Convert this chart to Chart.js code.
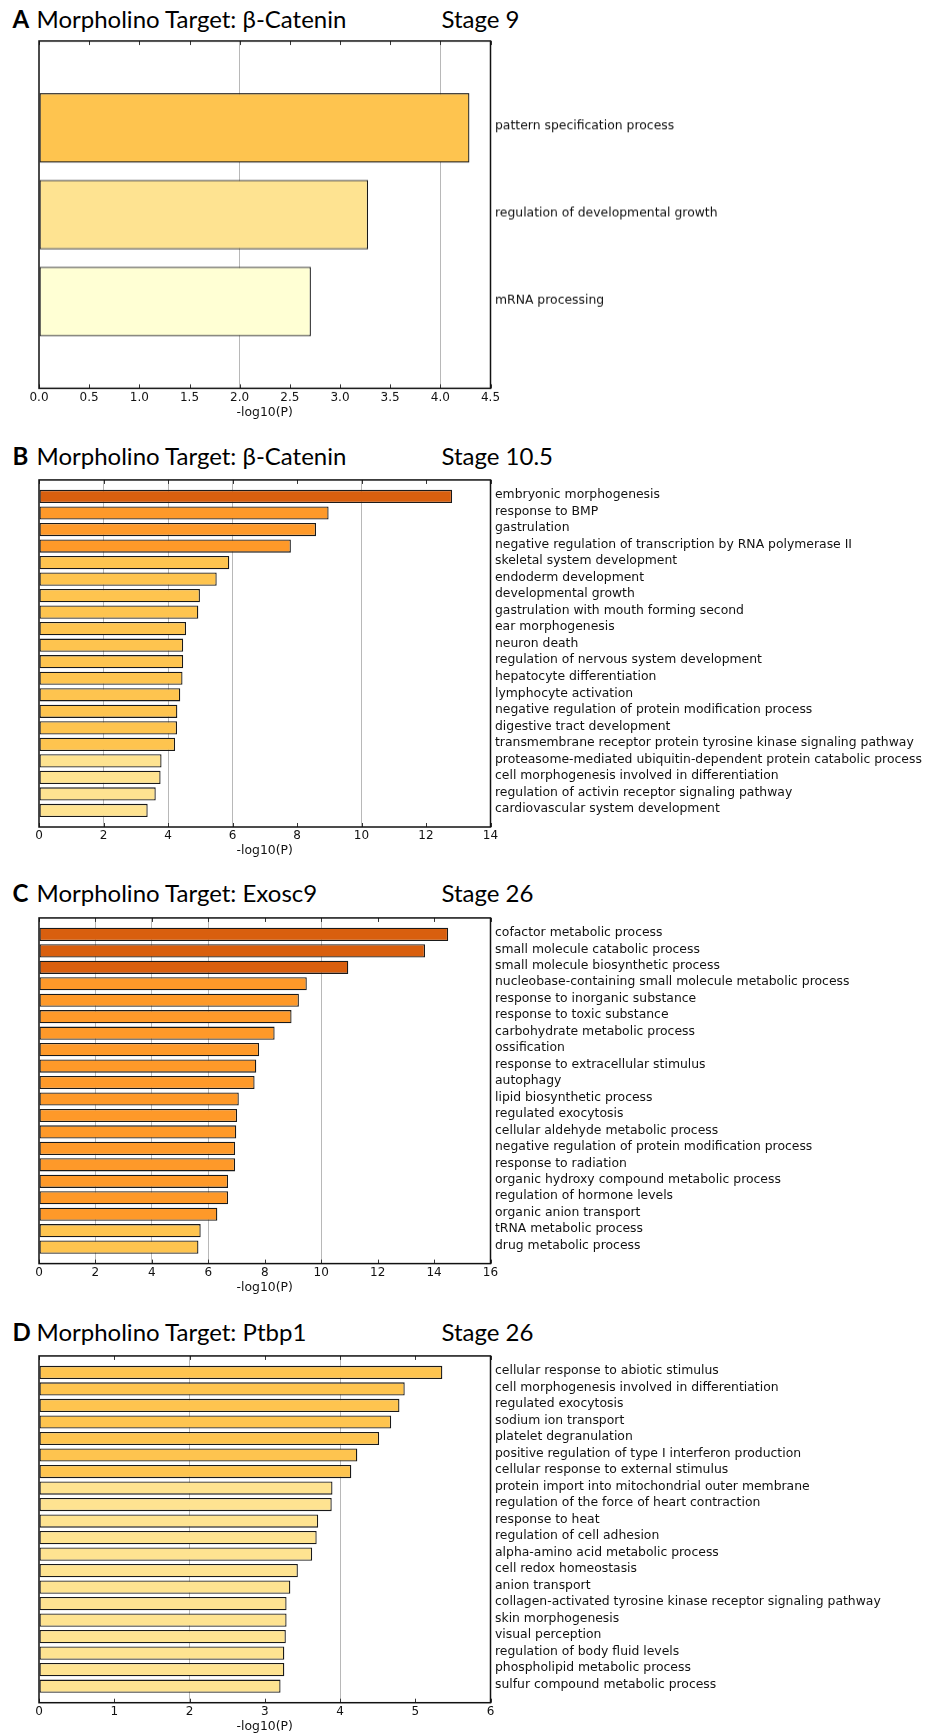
<!DOCTYPE html>
<html>
<head>
<meta charset="utf-8">
<script src="https://cdn.jsdelivr.net/npm/chart.js@4.4.0/dist/chart.umd.min.js"></script>
<style>
  body { margin: 0; background: #fff; width: 926px; height: 1733px; position: relative; overflow: hidden; }
  .panel { position: absolute; left: 0; width: 926px; }
  .head { position: absolute; left: 0; width: 926px; height: 24px; font-family: Lato, sans-serif; font-size: 24px; line-height: 24px; color: #000; white-space: nowrap; }
  .head span { position: absolute; top: 0; }
  .head .letter { font-weight: bold; }
</style>
</head>
<body>
<script>
// panel A - beta-catenin, stage 9
const termsA = ['pattern specification process', 'regulation of developmental growth', 'mRNA processing']
const valuesA = [4.29, 3.28, 2.71]
const colorsA = ['#FEC44F', '#FEE391', '#FFFFD4']

// panel B - beta-catenin, stage 10.5
const termsB = [
  'embryonic morphogenesis', 'response to BMP', 'gastrulation',
  'negative regulation of transcription by RNA polymerase II', 'skeletal system development',
  'endoderm development', 'developmental growth', 'gastrulation with mouth forming second',
  'ear morphogenesis', 'neuron death', 'regulation of nervous system development',
  'hepatocyte differentiation', 'lymphocyte activation',
  'negative regulation of protein modification process', 'digestive tract development',
  'transmembrane receptor protein tyrosine kinase signaling pathway',
  'proteasome-mediated ubiquitin-dependent protein catabolic process',
  'cell morphogenesis involved in differentiation', 'regulation of activin receptor signaling pathway',
  'cardiovascular system development'
]
const valuesB = [12.81, 8.98, 8.59, 7.81, 5.90, 5.51, 4.99, 4.94, 4.56, 4.47,
                 4.47, 4.45, 4.38, 4.29, 4.28, 4.22, 3.80, 3.77, 3.62, 3.37]
const colorsB = ['#D95F0E', '#FE9929', '#FE9929', '#FE9929',
                 '#FEC44F', '#FEC44F', '#FEC44F', '#FEC44F', '#FEC44F', '#FEC44F',
                 '#FEC44F', '#FEC44F', '#FEC44F', '#FEC44F', '#FEC44F', '#FEC44F',
                 '#FEE391', '#FEE391', '#FEE391', '#FEE391']

// panel C - exosc9, stage 26
const termsC = [
  'cofactor metabolic process', 'small molecule catabolic process', 'small molecule biosynthetic process',
  'nucleobase-containing small molecule metabolic process', 'response to inorganic substance',
  'response to toxic substance', 'carbohydrate metabolic process', 'ossification',
  'response to extracellular stimulus', 'autophagy', 'lipid biosynthetic process',
  'regulated exocytosis', 'cellular aldehyde metabolic process',
  'negative regulation of protein modification process', 'response to radiation',
  'organic hydroxy compound metabolic process', 'regulation of hormone levels',
  'organic anion transport', 'tRNA metabolic process', 'drug metabolic process'
]
const valuesC = [14.50, 13.68, 10.96, 9.49, 9.21, 8.95, 8.35, 7.80, 7.70, 7.64,
                 7.08, 7.02, 6.99, 6.95, 6.95, 6.70, 6.70, 6.32, 5.73, 5.65]
const colorsC = ['#D95F0E', '#D95F0E', '#D95F0E',
                 '#FE9929', '#FE9929', '#FE9929', '#FE9929', '#FE9929', '#FE9929', '#FE9929',
                 '#FE9929', '#FE9929', '#FE9929', '#FE9929', '#FE9929', '#FE9929', '#FE9929',
                 '#FE9929', '#FEC44F', '#FEC44F']

// panel D - ptbp1, stage 26
const termsD = [
  'cellular response to abiotic stimulus', 'cell morphogenesis involved in differentiation',
  'regulated exocytosis', 'sodium ion transport', 'platelet degranulation',
  'positive regulation of type I interferon production', 'cellular response to external stimulus',
  'protein import into mitochondrial outer membrane', 'regulation of the force of heart contraction',
  'response to heat', 'regulation of cell adhesion', 'alpha-amino acid metabolic process',
  'cell redox homeostasis', 'anion transport',
  'collagen-activated tyrosine kinase receptor signaling pathway', 'skin morphogenesis',
  'visual perception', 'regulation of body fluid levels', 'phospholipid metabolic process',
  'sulfur compound metabolic process'
]
const valuesD = [5.36, 4.86, 4.79, 4.68, 4.52, 4.23, 4.15, 3.90, 3.89, 3.71,
                 3.69, 3.63, 3.44, 3.34, 3.29, 3.29, 3.28, 3.26, 3.26, 3.21]
const colorsD = ['#FEC44F', '#FEC44F', '#FEC44F', '#FEC44F', '#FEC44F', '#FEC44F', '#FEC44F',
                 '#FEE391', '#FEE391', '#FEE391', '#FEE391', '#FEE391', '#FEE391', '#FEE391',
                 '#FEE391', '#FEE391', '#FEE391', '#FEE391', '#FEE391', '#FEE391']

// x axis ranges and the vertical reference lines
const xMaxes = [4.5, 14, 16, 6]
const xSteps = [0.5, 2, 2, 1]
const refLinesA = [2, 4]
const refLinesB = [2, 4, 6, 10]
const refLinesC = [2, 4, 6, 10]
const refLinesD = [2, 4]

const PAD_TOP = 10
const X_H = 31.5
const PLOT_LEFT = 39
const PLOT_RIGHT = 490.5
const smallFont = { family: 'DejaVu Sans', size: 12.4 }

// box round the plot + little inward ticks top and bottom
const frame = {
  id: 'frame',
  afterDatasetsDraw(chart) {
    const { ctx, chartArea: { left, right, top, bottom }, scales: { x } } = chart
    ctx.save()
    ctx.strokeStyle = '#333'
    ctx.lineWidth = 1
    x.ticks.forEach(t => {
      const px = Math.round(x.getPixelForValue(t.value)) + 0.5
      ctx.beginPath()
      ctx.moveTo(px, top); ctx.lineTo(px, top + 4)
      ctx.moveTo(px, bottom); ctx.lineTo(px, bottom - 4)
      ctx.stroke()
    })
    ctx.strokeStyle = '#111'
    ctx.lineWidth = 1.5
    ctx.strokeRect(left, top, right - left, bottom - top)
    ctx.restore()
  }
}

function makePanel(plotTop, plotBottom, baseline, letter, target, stage, terms, values, colors, xMax, xStep, refLines) {
  const head = document.createElement('div')
  head.className = 'head'
  head.style.top = (baseline - 21.3) + 'px'
  head.innerHTML = `<span class="letter" style="left:12.5px">${letter}</span>` +
    `<span style="left:36.5px">Morpholino Target: ${target}</span>` +
    `<span style="left:441.5px">${stage}</span>`
  document.body.appendChild(head)

  const wrap = document.createElement('div')
  wrap.className = 'panel'
  wrap.style.top = (plotTop - PAD_TOP) + 'px'
  wrap.style.height = (PAD_TOP + (plotBottom - plotTop) + X_H) + 'px'
  const canvas = document.createElement('canvas')
  wrap.appendChild(canvas)
  document.body.appendChild(wrap)

  new Chart(canvas, {
    type: 'bar',
    data: {
      // empty slot above and below so bars sit one step in from the frame
      labels: ['', ...terms, ''],
      datasets: [{
        data: [null, ...values, null],
        backgroundColor: ['#fff', ...colors, '#fff'],
        borderColor: '#1a1a1a',
        borderWidth: 1.3,
        borderSkipped: false,
        categoryPercentage: 1,
        barPercentage: 0.8
      }]
    },
    options: {
      indexAxis: 'y',
      responsive: true,
      maintainAspectRatio: false,
      animation: false,
      layout: { padding: { left: PLOT_LEFT, top: PAD_TOP, right: 0, bottom: 0 } },
      plugins: { legend: { display: false }, tooltip: { enabled: false } },
      scales: {
        x: {
          type: 'linear', min: 0, max: xMax,
          ticks: {
            stepSize: xStep, padding: 2, color: '#111',
            font: { family: 'DejaVu Sans', size: 12 },
            callback: v => xStep < 1 ? v.toFixed(1) : v
          },
          grid: {
            drawTicks: false,
            lineWidth: 1,
            color: c => (c.tick && refLines.includes(c.tick.value)) ? '#b8b8b8' : 'rgba(0,0,0,0)'
          },
          border: { display: false },
          title: { display: true, text: '-log10(P)', color: '#111', font: smallFont, padding: 0 },
          afterFit: s => { s.height = X_H }
        },
        y: {
          type: 'category', position: 'right', offset: false,
          grid: { display: false, drawTicks: false, offset: false },
          border: { display: false },
          ticks: { autoSkip: false, padding: 4.5, labelOffset: -1.5, color: '#111', font: smallFont },
          afterFit: s => { s.width = 926 - PLOT_RIGHT }
        }
      }
    },
    plugins: [frame]
  })
}

makePanel(39.3, 387.7, 28.3, 'A', 'β-Catenin', 'Stage 9', termsA, valuesA, colorsA, xMaxes[0], xSteps[0], refLinesA)
makePanel(477.7, 826.7, 465.7, 'B', 'β-Catenin', 'Stage 10.5', termsB, valuesB, colorsB, xMaxes[1], xSteps[1], refLinesB)
makePanel(915.7, 1263.3, 902.7, 'C', 'Exosc9', 'Stage 26', termsC, valuesC, colorsC, xMaxes[2], xSteps[2], refLinesC)
makePanel(1354, 1702.7, 1341.7, 'D', 'Ptbp1', 'Stage 26', termsD, valuesD, colorsD, xMaxes[3], xSteps[3], refLinesD)
</script>
</body>
</html>
